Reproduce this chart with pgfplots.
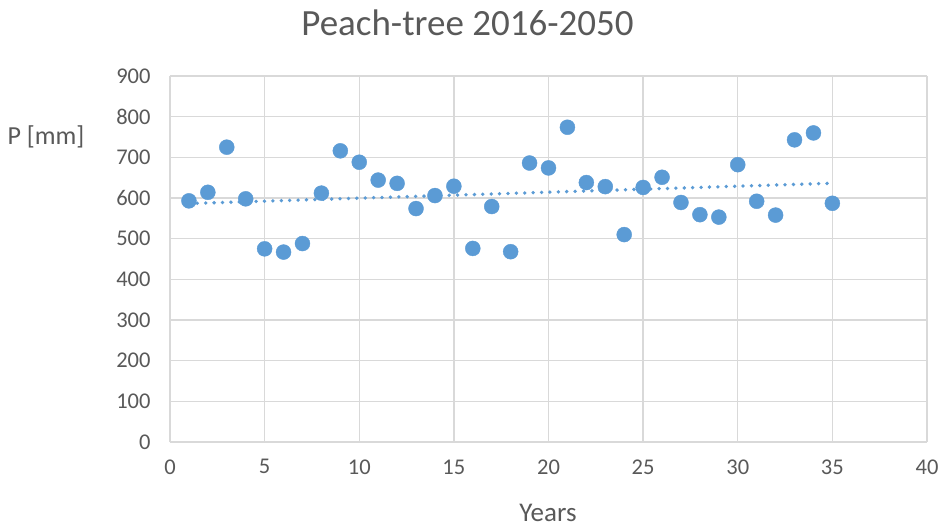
\documentclass[border=0pt]{standalone}
\usepackage{pgfplots}
\usepackage{pgfplotstable}
\pgfplotsset{compat=1.18}
\usepackage{fontspec}
\setmainfont{Carlito}
\definecolor{ptblue}{HTML}{5B9BD5}
\definecolor{txtgray}{HTML}{595959}
\definecolor{gridgray}{HTML}{D9D9D9}
\pgfplotstableread{
x y
1 593
2 614
3 725
4 598
5 475
6 467
7 488
8 612
9 716
10 688
11 644
12 636
13 574
14 606
15 629
16 476
17 579
18 468
19 686
20 674
21 774
22 638
23 628
24 510
25 626
26 651
27 589
28 559
29 553
30 682
31 592
32 558
33 743
34 760
35 587
}\datatable
\begin{document}
\begin{tikzpicture}[x=1pt,y=1pt]
\useasboundingbox (-170,-86) rectangle (777,442);
\begin{axis}[
  at={(0,0)}, anchor=south west,
  scale only axis, width=757pt, height=366pt,
  xmin=0, xmax=40, ymin=0, ymax=900,
  xtick={0,5,...,40}, ytick={0,100,...,900},
  grid=major,
  major grid style={draw=gridgray, line width=1.3pt},
  axis line style={draw=gridgray, line width=1.3pt},
  axis lines*=left,
  tick style={draw=none},
  /pgf/number format/assume math mode=true,
  ticklabel style={font=\fontsize{22.5}{26}\selectfont, text=txtgray},
  xticklabel style={yshift=-14pt},
  yticklabel style={xshift=-16pt},
  clip=false,
]
\addplot[only marks, mark=*, mark size=7.5pt, mark options={draw=ptblue, fill=ptblue}] table[x=x,y=y] {\datatable};
\addplot[draw=ptblue, line width=3.8pt, line cap=round, dash pattern=on 0pt off 8.4pt, no markers]
  table[x=x, y={create col/linear regression={y=y}}] {\datatable};
\end{axis}
\node[text=txtgray, font=\fontsize{37}{42}\selectfont] at (297.5,419) {Peach-tree 2016-2050};
\node[text=txtgray, font=\fontsize{26}{30}\selectfont] at (-124,305) {P [mm]};
\node[text=txtgray, font=\fontsize{27}{31}\selectfont] at (378,-71) {Years};
\end{tikzpicture}
\end{document}
